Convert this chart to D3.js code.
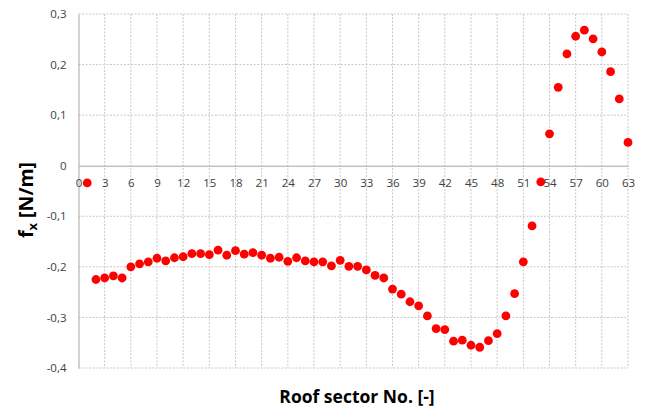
<!DOCTYPE html>
<html>
<head>
<meta charset="utf-8">
<script src="https://cdn.jsdelivr.net/npm/d3@7"></script>
<style>
  html, body { margin: 0; padding: 0; background: #fff; }
  svg { display: block; }
  .tick text { font-family: "Open Sans", sans-serif; font-size: 11.5px; fill: #404040; }
  .title { font-family: "Open Sans", sans-serif; font-weight: bold; fill: #000; }
</style>
</head>
<body>
<svg id="chart" width="648" height="408"></svg>
<script>
// Roof sector numbers and the horizontal force component per sector
const sectors = d3.range(1, 64);
const fx = [
  -0.034, -0.225, -0.222, -0.218, -0.222, -0.200, -0.194, -0.190, -0.183, -0.188,
  -0.182, -0.180, -0.174, -0.174, -0.176, -0.167, -0.177, -0.168, -0.175, -0.172,
  -0.177, -0.183, -0.181, -0.189, -0.182, -0.188, -0.190, -0.190, -0.198, -0.187,
  -0.199, -0.199, -0.206, -0.217, -0.222, -0.244, -0.254, -0.269, -0.277, -0.297,
  -0.322, -0.324, -0.347, -0.345, -0.355, -0.359, -0.346, -0.332, -0.297, -0.253,
  -0.190, -0.119, -0.032, 0.063, 0.155, 0.221, 0.256, 0.268, 0.251, 0.225,
  0.186, 0.132, 0.046
];
const xTicks = d3.range(0, 64, 3);
const yTicks = [0.3, 0.2, 0.1, 0, -0.1, -0.2, -0.3, -0.4];

const svg = d3.select("#chart");
const m = { left: 78.5, right: 628, top: 14, bottom: 368 };

const x = d3.scaleLinear().domain([0, 63]).range([m.left, m.right]);
const y = d3.scaleLinear().domain([-0.4, 0.3]).range([m.bottom, m.top]);
const fmt = d => d === 0 ? "0" : d3.format(".1f")(d).replace(".", ",").replace("−", "-");

// dashed grid
const grid = svg.append("g");
grid.selectAll("line.v").data(xTicks.filter(d => d > 0)).join("line")
  .attr("x1", d => x(d)).attr("x2", d => x(d))
  .attr("y1", m.top).attr("y2", m.bottom)
  .attr("stroke", "#c8c8c8").attr("stroke-width", 1).attr("stroke-dasharray", "2,1.5");
grid.selectAll("line.h").data(yTicks.filter(d => d !== 0)).join("line")
  .attr("x1", m.left).attr("x2", m.right)
  .attr("y1", d => y(d)).attr("y2", d => y(d))
  .attr("stroke", "#c8c8c8").attr("stroke-width", 1).attr("stroke-dasharray", "2,1.5");

// y axis on the left edge
const yAxis = svg.append("g").attr("transform", `translate(${m.left},0)`)
  .call(d3.axisLeft(y).tickValues(yTicks).tickFormat(fmt).tickSize(0).tickPadding(12));
yAxis.select(".domain").attr("stroke", "#a6a6a6");

// x axis along the zero line, labels hanging below it
const xAxis = svg.append("g").attr("transform", `translate(0,${y(0)})`)
  .call(d3.axisBottom(x).tickValues(xTicks).tickSize(0).tickPadding(13));
xAxis.select(".domain").attr("stroke", "#a6a6a6");

// data points
svg.append("g").selectAll("circle").data(sectors).join("circle")
  .attr("cx", (d) => x(d))
  .attr("cy", (d, i) => y(fx[i]))
  .attr("r", 4.4)
  .attr("fill", "#ff0000");

// axis titles
svg.append("text").attr("class", "title")
  .attr("x", 357).attr("y", 403).attr("text-anchor", "middle")
  .attr("font-size", 17.5)
  .text("Roof sector No. [-]");

const yt = svg.append("text").attr("class", "title")
  .attr("transform", "translate(33,200) rotate(-90)")
  .attr("text-anchor", "middle").attr("font-size", 19.5);
yt.append("tspan").text("f");
yt.append("tspan").attr("font-size", 13).attr("dy", 4).text("x");
yt.append("tspan").attr("dy", -4).text(" [N/m]");
</script>
</body>
</html>
